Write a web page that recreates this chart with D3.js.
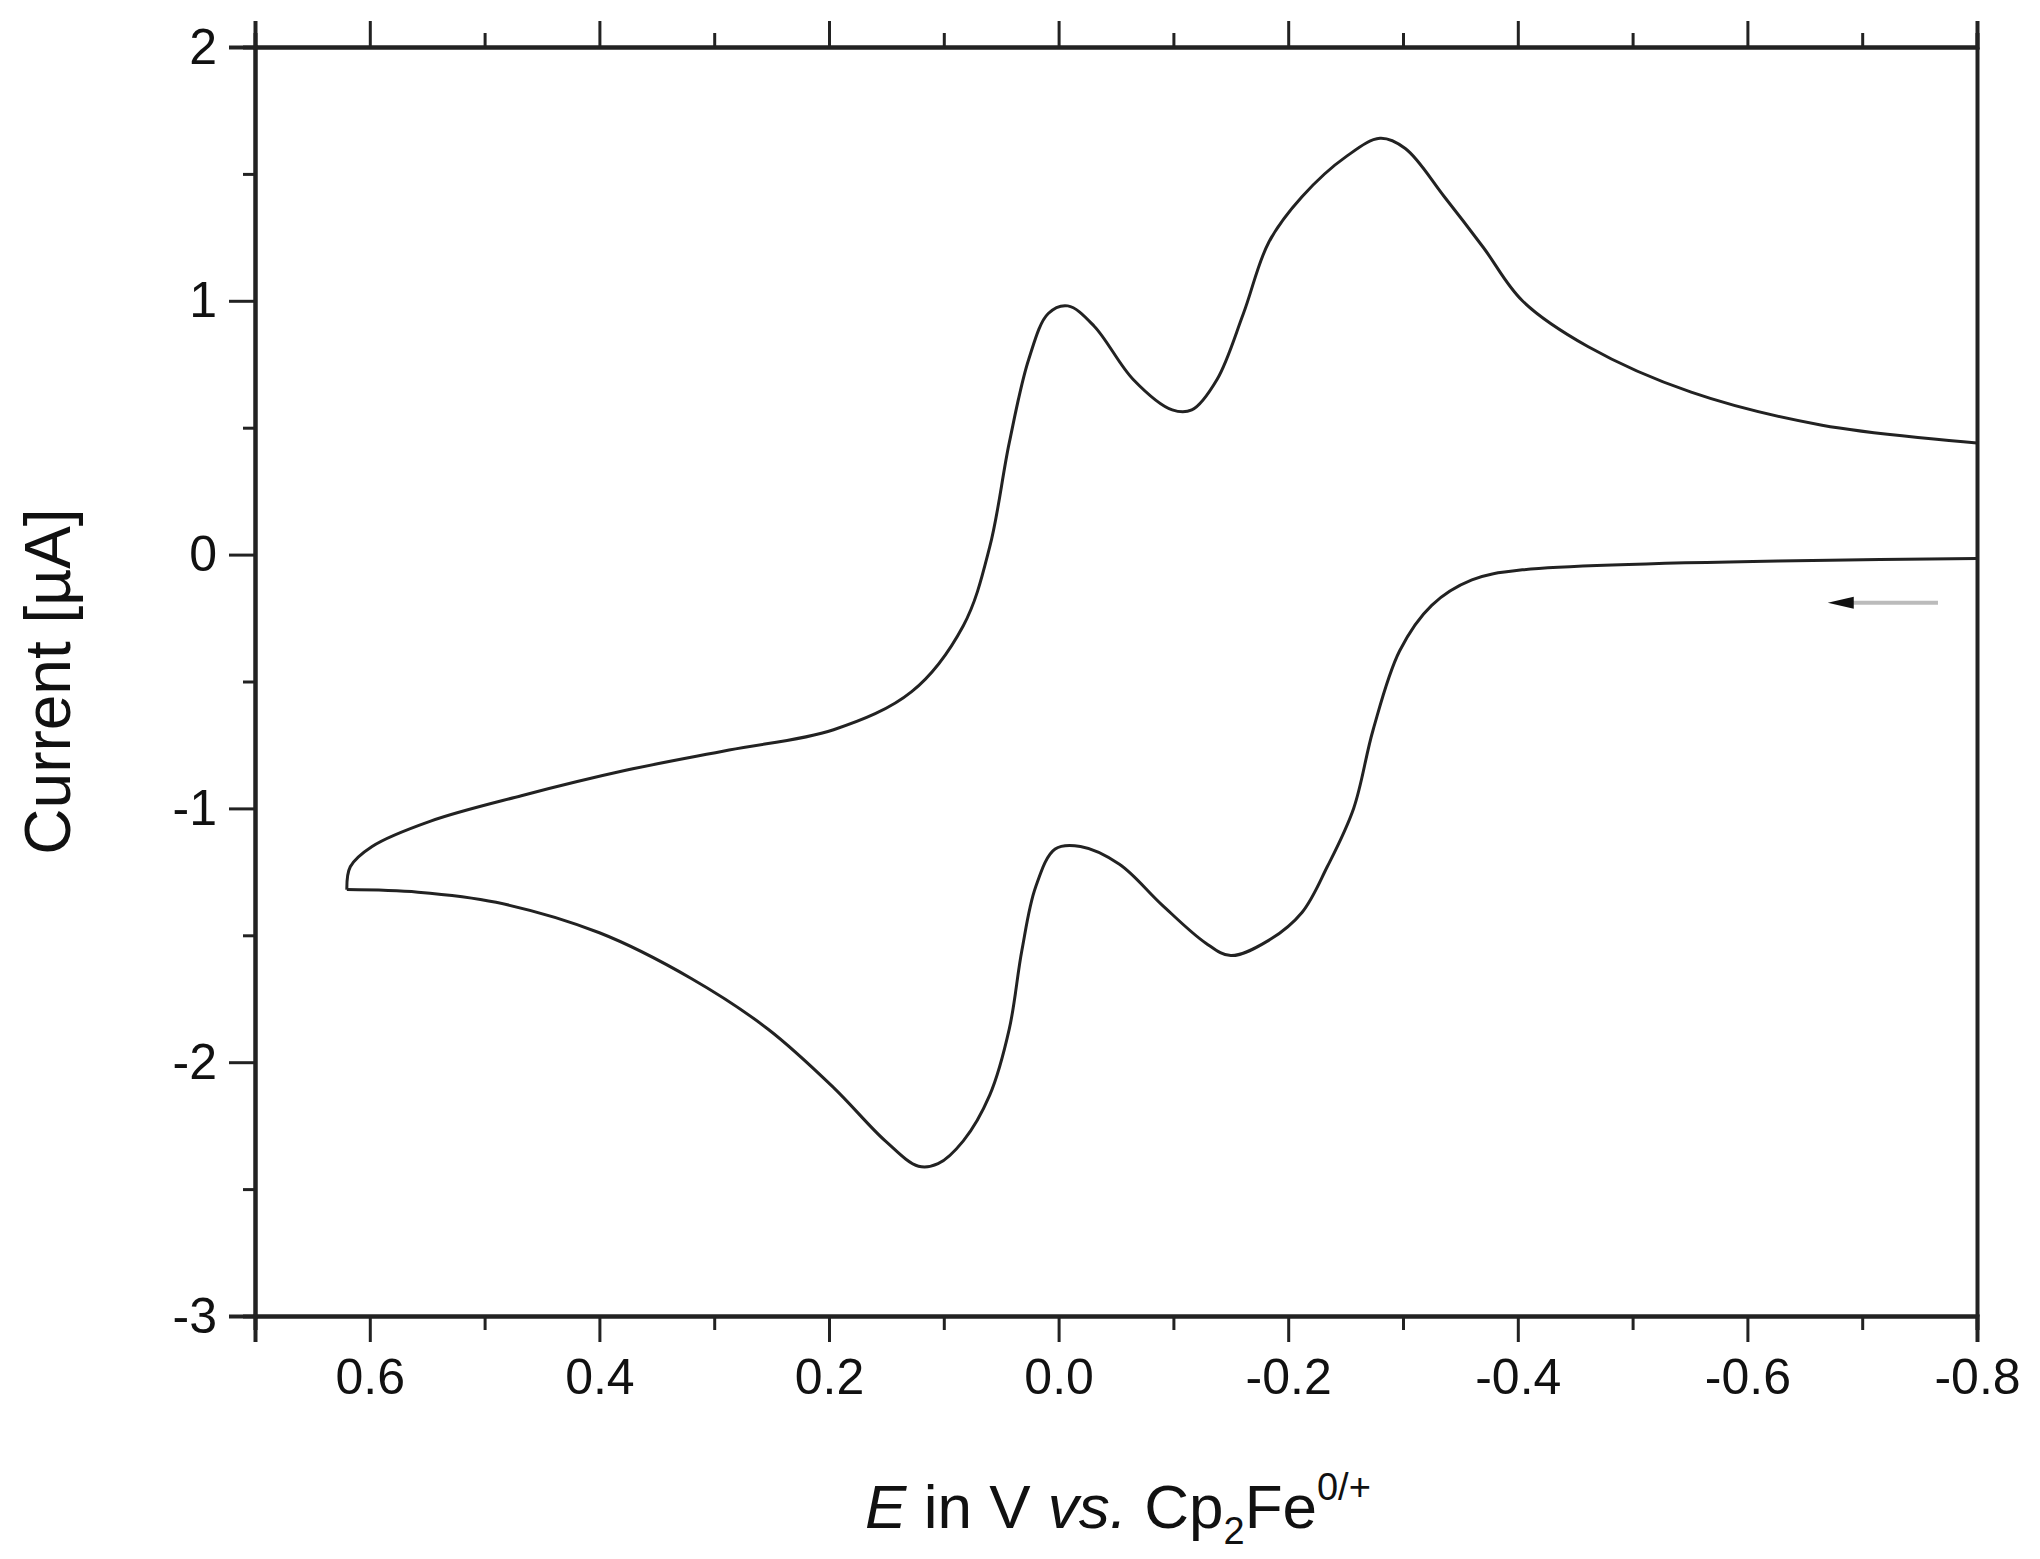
<!DOCTYPE html>
<html><head><meta charset="utf-8">
<script src="https://cdn.jsdelivr.net/npm/d3@7"></script>
<style>body{margin:0;background:#fff}svg{display:block}text{font-family:"Liberation Sans",Arial,sans-serif}</style>
</head><body><svg id="c" width="2040" height="1559"></svg>
<script>
const lowerE=[-0.8,-0.404,-0.36,-0.325,-0.297,-0.274,-0.257,-0.234,-0.212,-0.183,-0.15,-0.128,-0.09,-0.053,-0.019,0.003,0.02,0.032,0.043,0.06,0.083,0.105,0.122,0.151,0.196,0.253,0.32,0.4,0.49,0.558,0.62];
const lowerI=[-0.015,-0.06,-0.10,-0.2,-0.38,-0.69,-1.0,-1.23,-1.41,-1.52,-1.58,-1.53,-1.38,-1.22,-1.15,-1.16,-1.31,-1.56,-1.87,-2.13,-2.31,-2.40,-2.41,-2.31,-2.1,-1.87,-1.67,-1.49,-1.37,-1.33,-1.32];
const upperE=[0.62,0.617,0.598,0.547,0.468,0.377,0.287,0.196,0.128,0.083,0.06,0.043,0.026,0.009,-0.008,-0.031,-0.065,-0.099,-0.116,-0.138,-0.161,-0.183,-0.212,-0.251,-0.28,-0.302,-0.336,-0.37,-0.404,-0.461,-0.551,-0.665,-0.8];
const upperI=[-1.32,-1.23,-1.15,-1.05,-0.95,-0.85,-0.77,-0.69,-0.54,-0.28,0.03,0.44,0.77,0.95,0.98,0.90,0.69,0.57,0.57,0.69,0.95,1.23,1.41,1.57,1.64,1.60,1.41,1.21,1.0,0.82,0.64,0.51,0.44];
const xMajor=[0.6,0.4,0.2,0.0,-0.2,-0.4,-0.6,-0.8];
const xMinor=[0.7,0.5,0.3,0.1,-0.1,-0.3,-0.5,-0.7];
const yMajor=[2,1,0,-1,-2,-3];
const yMinor=[1.5,0.5,-0.5,-1.5,-2.5];
const arrowE=[-0.766,-0.67], arrowI=-0.19;

const L=255,R=1977,T=47,B=1316;
const svg=d3.select("#c");
const x=d3.scaleLinear().domain([0.7,-0.8]).range([L,R]);
const y=d3.scaleLinear().domain([-3,2]).range([B,T]);
const fmtX=d=>d===0?"0.0":d3.format(".1f")(d).replace("−","-");
svg.append("g").attr("transform",`translate(0,${B})`).call(d3.axisBottom(x).tickValues(xMajor).tickSize(26).tickPadding(16).tickFormat(fmtX));
svg.append("g").attr("transform",`translate(0,${B})`).call(d3.axisBottom(x).tickValues(xMinor).tickSize(14).tickFormat(""));
svg.append("g").attr("transform",`translate(0,${T})`).call(d3.axisTop(x).tickValues(xMajor).tickSize(26).tickFormat(""));
svg.append("g").attr("transform",`translate(0,${T})`).call(d3.axisTop(x).tickValues(xMinor).tickSize(14).tickFormat(""));
svg.append("g").attr("transform",`translate(${L},0)`).call(d3.axisLeft(y).tickValues(yMajor).tickSize(26).tickPadding(12).tickFormat(d=>String(d)));
svg.append("g").attr("transform",`translate(${L},0)`).call(d3.axisLeft(y).tickValues(yMinor).tickSize(12).tickFormat(""));
svg.append("g").attr("transform",`translate(${R},0)`).call(d3.axisRight(y).tickValues([]).tickSize(0));
svg.selectAll(".domain").attr("stroke","#222").attr("stroke-width",4);
svg.selectAll(".tick line").attr("stroke","#222").attr("stroke-width",3);
svg.selectAll(".tick text").attr("font-size",50).attr("fill","#111");
const line=d3.line().x(d=>x(d[0])).y(d=>y(d[1])).curve(d3.curveCatmullRom);
svg.append("path").datum(lowerE.map((e,i)=>[e,lowerI[i]])).attr("d",line).attr("fill","none").attr("stroke","#222").attr("stroke-width",3);
svg.append("path").datum(upperE.map((e,i)=>[e,upperI[i]])).attr("d",line).attr("fill","none").attr("stroke","#222").attr("stroke-width",3);
svg.append("line").attr("x1",x(arrowE[0])).attr("x2",x(arrowE[1])+20).attr("y1",y(arrowI)).attr("y2",y(arrowI)).attr("stroke","#bbb").attr("stroke-width",4);
const ax=x(arrowE[1]),ay=y(arrowI);
svg.append("path").attr("d",`M${ax},${ay}L${ax+26},${ay-6}L${ax+26},${ay+6}Z`).attr("fill","#111");
svg.append("text").attr("transform",`translate(70,${(T+B)/2}) rotate(-90)`).attr("text-anchor","middle").attr("font-size",64).attr("fill","#111").text("Current [µA]");
const xt=svg.append("text").attr("x",1118).attr("y",1528).attr("text-anchor","middle").attr("font-size",62).attr("fill","#111");
xt.append("tspan").attr("font-style","italic").text("E");
xt.append("tspan").text(" in V ");
xt.append("tspan").attr("font-style","italic").text("vs.");
xt.append("tspan").text(" Cp");
xt.append("tspan").attr("font-size",38).attr("dy",16).text("2");
xt.append("tspan").attr("dy",-16).text("Fe");
xt.append("tspan").attr("font-size",38).attr("dy",-28).text("0/+");
</script></body></html>
